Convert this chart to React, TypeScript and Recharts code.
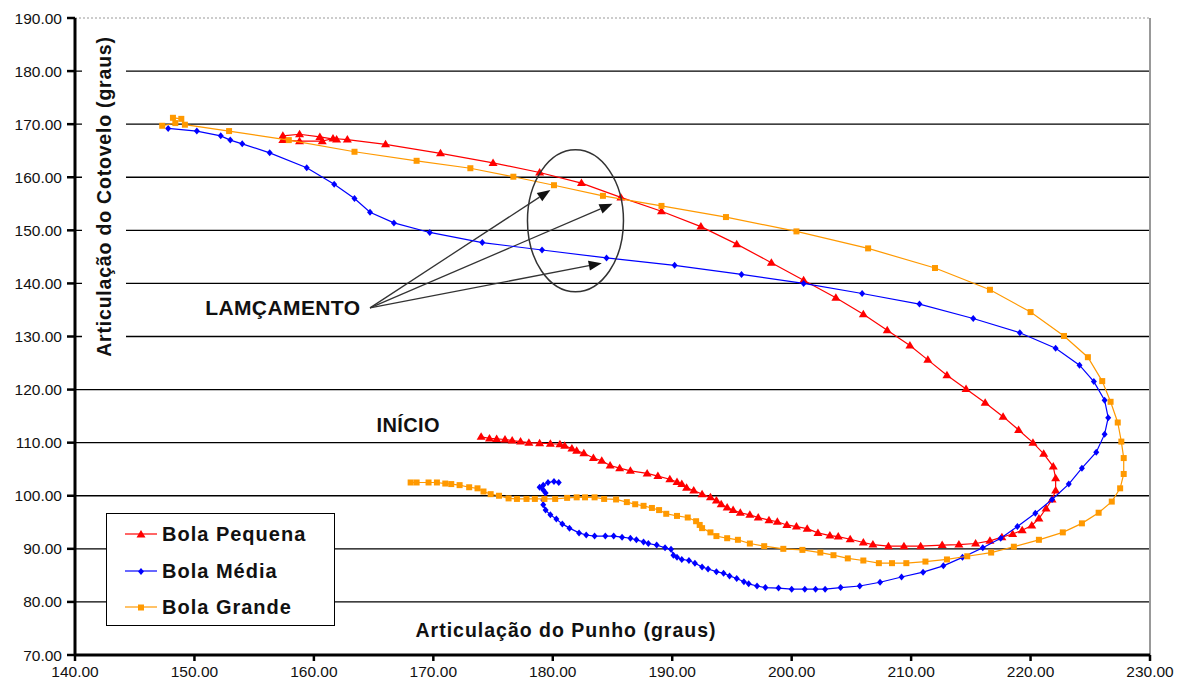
import { CartesianGrid, ReferenceDot, ReferenceLine, Scatter, ScatterChart, XAxis, YAxis } from "recharts";

const FONT = '"Liberation Sans", Arial, sans-serif';

const W = 1180;
const H = 689;

const X_TICKS = [140, 150, 160, 170, 180, 190, 200, 210, 220, 230];
const Y_TICKS = [70, 80, 90, 100, 110, 120, 130, 140, 150, 160, 170, 180, 190];
const GRID_Y = [80, 90, 100, 110, 120, 130, 140, 150, 160, 170, 180];

// [punho, cotovelo] in graus
const PEQUENA: [number, number][] = [
  [174.0, 111.1], [174.7, 110.8], [175.3, 110.7], [176.0, 110.6], [176.6, 110.4], [177.3, 110.2],
  [178.0, 110.0], [178.9, 109.9], [179.8, 109.8], [180.6, 109.7], [181.0, 109.4], [181.6, 108.9],
  [182.0, 108.5], [182.6, 108.0], [183.4, 107.1], [184.1, 106.6], [184.8, 105.7], [185.6, 105.2],
  [186.5, 104.7], [187.9, 104.2], [188.8, 103.7], [189.8, 103.1], [190.4, 102.6], [190.8, 102.2],
  [191.2, 101.5], [191.8, 101.0], [192.5, 100.3], [193.2, 99.7], [193.7, 99.1], [194.1, 98.4],
  [194.6, 97.8], [195.1, 97.3], [195.7, 96.8], [196.5, 96.4], [197.2, 95.9], [198.1, 95.4],
  [198.8, 95.1], [199.6, 94.5], [200.4, 94.2], [201.3, 93.8], [202.2, 93.0], [203.2, 92.5],
  [203.9, 92.3], [204.9, 91.8], [206.0, 91.2], [206.8, 90.8], [208.1, 90.5], [209.4, 90.5],
  [210.8, 90.5], [212.6, 90.7], [214.0, 90.8], [215.4, 91.0], [216.6, 91.5], [217.6, 92.2],
  [218.5, 92.8], [219.3, 93.5], [220.1, 94.4], [220.7, 95.7], [221.3, 97.6], [221.8, 99.3],
  [222.1, 101.0], [222.1, 103.3], [221.9, 105.5], [221.1, 107.9], [220.2, 110.0], [219.0, 112.4],
  [217.7, 114.9], [216.2, 117.5], [214.6, 120.1], [213.0, 122.7], [211.4, 125.6], [209.9, 128.3],
  [208.0, 131.2], [206.0, 134.2], [203.7, 137.3], [201.0, 140.6], [198.3, 143.9], [195.4, 147.4],
  [192.4, 150.7], [189.1, 153.6], [185.7, 156.2], [182.4, 158.9], [178.9, 160.9], [175.0, 162.7],
  [170.6, 164.5], [166.0, 166.2], [162.8, 167.1], [161.6, 167.3], [160.7, 166.8], [158.8, 166.8],
  [157.4, 167.0], [157.4, 167.8], [158.8, 168.1], [160.5, 167.6], [161.9, 167.1],
];

const MEDIA: [number, number][] = [
  [180.5, 102.5], [180.1, 102.7], [179.6, 102.5], [179.2, 102.0], [178.9, 101.6], [179.2, 101.1],
  [179.4, 100.5], [179.2, 99.2], [179.2, 98.3], [179.4, 97.3], [179.8, 96.4], [180.3, 95.6],
  [180.8, 94.7], [181.4, 93.9], [182.2, 93.0], [182.8, 92.6], [183.5, 92.4], [184.4, 92.4],
  [185.1, 92.4], [185.8, 92.2], [186.5, 92.0], [187.0, 91.7], [187.6, 91.3], [188.0, 91.0],
  [188.7, 90.7], [189.4, 90.2], [189.9, 89.9], [190.1, 88.8], [190.4, 88.4], [190.8, 88.0],
  [191.4, 87.8], [191.9, 87.3], [192.5, 86.6], [193.0, 86.2], [193.7, 85.7], [194.3, 85.4],
  [194.8, 84.9], [195.4, 84.4], [196.0, 83.8], [196.4, 83.4], [197.1, 83.0], [197.8, 82.7],
  [198.9, 82.6], [200.0, 82.4], [201.1, 82.4], [202.0, 82.4], [202.8, 82.4], [204.1, 82.7],
  [205.7, 83.0], [207.4, 83.7], [209.2, 84.7], [211.0, 85.6], [212.7, 86.8], [214.3, 88.4],
  [216.0, 90.2], [217.5, 92.0], [218.9, 94.2], [220.4, 96.7], [221.8, 99.3], [223.2, 102.2],
  [224.3, 105.2], [225.5, 108.2], [226.2, 111.6], [226.5, 114.7], [226.2, 118.0], [225.3, 121.5],
  [224.1, 124.6], [222.1, 127.8], [219.1, 130.7], [215.2, 133.4], [210.7, 136.1], [205.9, 138.1],
  [201.0, 140.0], [195.8, 141.7], [190.2, 143.4], [184.5, 144.8], [179.1, 146.3], [174.1, 147.7],
  [169.7, 149.6], [166.7, 151.4], [164.7, 153.4], [163.4, 156.0], [161.7, 158.7], [159.4, 161.8],
  [156.3, 164.6], [154.0, 166.3], [153.0, 167.0], [152.2, 167.8], [150.2, 168.7], [147.8, 169.2],
];

const GRANDE: [number, number][] = [
  [168.1, 102.5], [168.6, 102.5], [169.6, 102.5], [170.3, 102.5], [171.0, 102.3], [171.5, 102.2],
  [172.2, 102.0], [173.0, 101.6], [173.7, 101.4], [174.2, 100.8], [174.8, 100.3], [175.5, 100.0],
  [176.3, 99.5], [177.0, 99.4], [177.8, 99.4], [178.5, 99.4], [179.3, 99.4], [180.2, 99.4],
  [181.2, 99.6], [182.0, 99.7], [182.7, 99.7], [183.5, 99.7], [184.3, 99.4], [185.3, 99.3],
  [186.2, 98.8], [186.9, 98.4], [187.6, 98.1], [188.3, 97.7], [188.9, 97.3], [189.5, 96.6],
  [190.4, 96.2], [191.3, 95.9], [192.0, 95.2], [192.3, 94.5], [192.5, 93.9], [193.2, 93.1],
  [193.7, 92.4], [194.6, 92.0], [195.5, 91.7], [196.5, 91.0], [197.7, 90.5], [199.3, 90.0],
  [200.9, 89.8], [202.4, 89.3], [203.5, 88.8], [204.7, 88.2], [206.0, 87.8], [207.3, 87.3],
  [208.4, 87.3], [209.6, 87.3], [211.2, 87.6], [213.0, 88.0], [214.7, 88.6], [216.7, 89.3],
  [218.6, 90.4], [220.7, 91.7], [222.7, 93.1], [224.3, 94.8], [225.7, 96.8], [226.8, 98.9],
  [227.5, 101.4], [227.8, 104.1], [227.8, 107.1], [227.6, 110.2], [227.3, 113.8], [226.7, 117.7],
  [226.0, 121.6], [224.8, 126.1], [222.8, 130.1], [220.0, 134.6], [216.6, 138.8], [212.0, 142.9],
  [206.4, 146.6], [200.4, 149.8], [194.5, 152.5], [189.1, 154.6], [184.2, 156.5], [180.1, 158.5],
  [176.7, 160.1], [173.1, 161.7], [168.6, 163.1], [163.4, 164.8], [157.9, 167.0], [152.9, 168.7],
  [149.2, 169.9], [148.9, 171.0], [148.2, 171.2], [148.4, 170.2], [147.3, 169.7],
];

type Kind = "triangle" | "diamond" | "square";

const SERIES: { name: string; color: string; kind: Kind; points: [number, number][] }[] = [
  { name: "Bola Pequena", color: "#ff0000", kind: "triangle", points: PEQUENA },
  { name: "Bola Média", color: "#0000ff", kind: "diamond", points: MEDIA },
  { name: "Bola Grande", color: "#ff9900", kind: "square", points: GRANDE },
];

// annotation anchors, in data units
const LAUNCH_FROM = { x: 164.7, y: 135.4 };
const LAUNCH_TO = [
  { x: 179.8, y: 157.6 },
  { x: 185.0, y: 155.0 },
  { x: 184.1, y: 143.8 },
];
const ELLIPSE_AT = { x: 181.9, y: 151.8 };
const LABEL_LAUNCH = { x: 157.4, y: 135.4 };
const LABEL_START = { x: 167.9, y: 113.3 };

function Marker({ kind, cx, cy, color }: { kind: Kind; cx: number; cy: number; color: string }) {
  if (kind === "triangle") {
    return <polygon points={`${cx},${cy - 4.5} ${cx + 4.5},${cy + 3} ${cx - 4.5},${cy + 3}`} fill={color} />;
  }
  if (kind === "diamond") {
    return <polygon points={`${cx},${cy - 3.5} ${cx + 3},${cy} ${cx},${cy + 3.5} ${cx - 3},${cy}`} fill={color} />;
  }
  return <rect x={cx - 3} y={cy - 3} width={6} height={6} fill={color} />;
}

function arrowShape(p: any) {
  const { x1, y1, x2, y2 } = p;
  const dx = x2 - x1;
  const dy = y2 - y1;
  const len = Math.hypot(dx, dy) || 1;
  const ux = dx / len;
  const uy = dy / len;
  const L = 13;
  const hw = 5;
  const bx = x2 - ux * L;
  const by = y2 - uy * L;
  return (
    <g>
      <line x1={x1} y1={y1} x2={bx} y2={by} stroke="#333" strokeWidth={1.3} />
      <polygon
        points={`${x2},${y2} ${bx - uy * hw},${by + ux * hw} ${bx + uy * hw},${by - ux * hw}`}
        fill="#111"
      />
    </g>
  );
}

const textShape = (label: string, size: number) => (p: any) => (
  <text
    x={p.cx}
    y={p.cy}
    dy="0.36em"
    textAnchor="middle"
    fontFamily={FONT}
    fontWeight="bold"
    fontSize={size}
    letterSpacing={0.4}
    fill="#111"
  >
    {label}
  </text>
);

const fmt = (v: number) => v.toFixed(2);

export default function App() {
  return (
    <div style={{ position: "absolute", left: 0, top: 0, width: W, height: H, fontFamily: FONT, background: "#fff" }}>
      <ScatterChart width={W} height={H} margin={{ top: 18, right: 30, bottom: 0, left: 0 }}>
        <CartesianGrid vertical={false} horizontalValues={GRID_Y} stroke="#000" strokeWidth={1.4} />
        <ReferenceLine y={190} stroke="#999" strokeDasharray="2 2" />
        <ReferenceLine x={230} stroke="#999" strokeWidth={2} />
        <XAxis
          type="number"
          dataKey="x"
          domain={[140, 230]}
          ticks={X_TICKS}
          tickFormatter={fmt}
          height={34}
          tickSize={6}
          tickMargin={5}
          axisLine={{ stroke: "#000", strokeWidth: 3 }}
          tickLine={{ stroke: "#000", strokeWidth: 2.5 }}
          tick={{ fill: "#111", fontSize: 15.5, fontFamily: FONT }}
          allowDataOverflow
        />
        <YAxis
          type="number"
          dataKey="y"
          domain={[70, 190]}
          ticks={Y_TICKS}
          tickFormatter={fmt}
          width={75}
          tickSize={8}
          tickMargin={5}
          axisLine={{ stroke: "#000", strokeWidth: 3 }}
          tickLine={{ stroke: "#000", strokeWidth: 2.5 }}
          tick={{ fill: "#111", fontSize: 15.5, fontFamily: FONT }}
          allowDataOverflow
        />
        {SERIES.map((s) => (
          <Scatter
            key={s.name}
            name={s.name}
            data={s.points.map(([x, y]) => ({ x, y }))}
            fill={s.color}
            line={{ stroke: s.color, strokeWidth: 1.2 }}
            lineType="joint"
            shape={(p: any) => <Marker kind={s.kind} cx={p.cx} cy={p.cy} color={s.color} />}
            isAnimationActive={false}
          />
        ))}
        <ReferenceDot
          x={ELLIPSE_AT.x}
          y={ELLIPSE_AT.y}
          shape={(p: any) => (
            <ellipse cx={p.cx} cy={p.cy} rx={48} ry={71} fill="none" stroke="#333" strokeWidth={1.5} />
          )}
        />
        {LAUNCH_TO.map((t, i) => (
          <ReferenceLine key={i} segment={[LAUNCH_FROM, t]} shape={arrowShape} />
        ))}
        <ReferenceDot x={LABEL_LAUNCH.x} y={LABEL_LAUNCH.y} shape={textShape("LAMÇAMENTO", 21)} />
        <ReferenceDot x={LABEL_START.x} y={LABEL_START.y} shape={textShape("INÍCIO", 20)} />
      </ScatterChart>

      {/* y title sits on a white box that hides the gridlines behind it */}
      <div
        style={{
          position: "absolute",
          left: 82,
          top: 28,
          width: 44,
          height: 336,
          background: "#fff",
          display: "flex",
          alignItems: "center",
          justifyContent: "center",
        }}
      >
        <span
          style={{
            transform: "rotate(-90deg)",
            whiteSpace: "nowrap",
            fontWeight: "bold",
            fontSize: 19.5,
            letterSpacing: 0.8,
            color: "#111",
          }}
        >
          Articulação do Cotovelo (graus)
        </span>
      </div>

      <div
        style={{
          position: "absolute",
          left: 566,
          top: 630,
          transform: "translate(-50%, -50%)",
          whiteSpace: "nowrap",
          fontWeight: "bold",
          fontSize: 19.5,
          letterSpacing: 1,
          color: "#111",
        }}
      >
        Articulação do Punho (graus)
      </div>

      <div
        style={{
          position: "absolute",
          left: 106,
          top: 513,
          width: 229,
          height: 113,
          boxSizing: "border-box",
          border: "1.5px solid #000",
          background: "#fff",
        }}
      >
        {SERIES.map((s, i) => (
          <div
            key={s.name}
            style={{
              position: "absolute",
              left: 18,
              top: [20, 57, 93][i] - 12,
              height: 24,
              display: "flex",
              alignItems: "center",
            }}
          >
            <svg width={32} height={12} style={{ display: "block" }}>
              <line x1={0} y1={6} x2={32} y2={6} stroke={s.color} strokeWidth={1.2} />
              <Marker kind={s.kind} cx={16} cy={6.5} color={s.color} />
            </svg>
            <span
              style={{
                marginLeft: 5,
                fontWeight: "bold",
                fontSize: 20,
                letterSpacing: 1,
                color: "#111",
                whiteSpace: "nowrap",
              }}
            >
              {s.name}
            </span>
          </div>
        ))}
      </div>
    </div>
  );
}
